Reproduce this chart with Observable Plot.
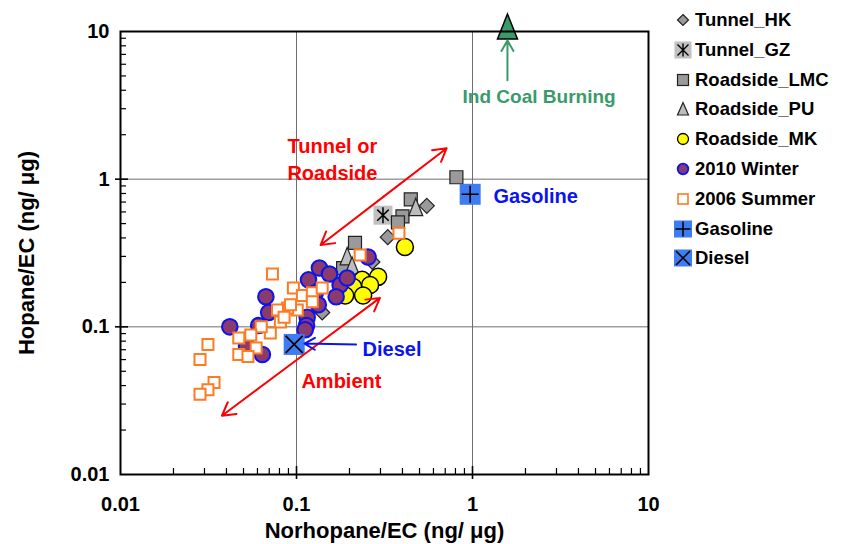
<!DOCTYPE html>
<html><head><meta charset="utf-8">
<script src="https://cdn.jsdelivr.net/npm/d3@7"></script>
<script src="https://cdn.jsdelivr.net/npm/@observablehq/plot@0.6"></script>
<style>
body{margin:0;background:#fff;}
#wrap{position:relative;width:843px;height:544px;font-family:"Liberation Sans",Arial,Helvetica,sans-serif;font-weight:bold;}
.leg{position:absolute;left:674px;height:24px;display:flex;align-items:center;font-size:18.5px;white-space:nowrap;color:#000;}
.leg svg{width:18px;height:18px;flex:none;margin-right:3px;}
</style></head><body><div id="wrap"></div>
<script>
// ---------- data ----------
const tunnelHK_x = [0.55, 0.33, 0.27, 0.14];
const tunnelHK_y = [0.66, 0.405, 0.275, 0.125];
const tunnelGZ_x = [0.31];
const tunnelGZ_y = [0.57];
const roadLMC_x = [0.81, 0.446, 0.40, 0.377, 0.215, 0.184];
const roadLMC_y = [1.03, 0.73, 0.56, 0.51, 0.37, 0.25];
const roadPU_x = [0.476, 0.194, 0.207];
const roadPU_y = [0.64, 0.297, 0.256];
const roadMK_x = [0.413, 0.236, 0.291, 0.262, 0.21, 0.239, 0.189];
const roadMK_y = [0.347, 0.208, 0.218, 0.192, 0.186, 0.163, 0.163];
const winter_x = [0.135, 0.154, 0.117, 0.177, 0.194, 0.255, 0.168, 0.128, 0.133, 0.115, 0.114, 0.067, 0.0695, 0.0418, 0.061, 0.064, 0.052, 0.112];
const winter_y = [0.25, 0.228, 0.208, 0.192, 0.214, 0.297, 0.16, 0.17, 0.141, 0.116, 0.102, 0.16, 0.125, 0.1, 0.102, 0.065, 0.074, 0.0955];
const summer_x = [0.073, 0.096, 0.108, 0.123, 0.14, 0.123, 0.101, 0.089, 0.078, 0.081, 0.0925, 0.071, 0.063, 0.055, 0.047, 0.059, 0.047, 0.053, 0.0314, 0.0283, 0.034, 0.0314, 0.0283, 0.23, 0.382, 0.085];
const summer_y = [0.228, 0.183, 0.163, 0.17, 0.183, 0.148, 0.13, 0.134, 0.13, 0.108, 0.141, 0.091, 0.1, 0.088, 0.084, 0.072, 0.065, 0.063, 0.076, 0.06, 0.042, 0.0375, 0.035, 0.307, 0.43, 0.116];
const gasoline_x = [0.97];
const gasoline_y = [0.79];
const diesel_x = [0.097];
const diesel_y = [0.076];
const coal_x = [1.58];
const coal_y = [10.6];

const axisTicks = [0.01, 0.1, 1, 10];
const gridValues = [0.1, 1];
const legendLabels = ["Tunnel_HK", "Tunnel_GZ", "Roadside_LMC", "Roadside_PU", "Roadside_MK", "2010 Winter", "2006 Summer", "Gasoline", "Diesel"];
const xTitle = "Norhopane/EC (ng/ \u03bcg)";
const yTitle = "Hopane/EC (ng/ \u03bcg)";

// annotations (data coordinates)
const redArrows = [
  {x1: 0.137, y1: 0.358, x2: 0.713, y2: 1.62},
  {x1: 0.0377, y1: 0.025, x2: 0.298, y2: 0.157}
];
const dieselArrow = [{x1: 0.218, y1: 0.076, x2: 0.111, y2: 0.077}];
const coalArrow = [{x1: 1.58, y1: 4.67, x2: 1.58, y2: 8.69}];
const redLabels = [{x: 0.16, y: 1.39, t: "Tunnel or\nRoadside"}, {x: 0.18, y: 0.0438, t: "Ambient"}];
const dieselLabel = [{x: 0.349, y: 0.07, t: "Diesel"}];
const gasolineLabel = [{x: 1.315, y: 0.767, t: "Gasoline"}];
const greenLabels = [{x: 2.39, y: 3.58, t: "Ind Coal Burning"}];

// ---------- helpers ----------
const pts = (xs, ys) => xs.map((x, i) => ({x, y: ys[i]}));
const R = s => Math.sqrt(s / Math.PI);
const symSquare = {draw(c, s) { const r = R(s); c.rect(-r, -r, 2 * r, 2 * r); }};
const symDiamond = {draw(c, s) { const r = R(s); c.moveTo(0, -r); c.lineTo(r, 0); c.lineTo(0, r); c.lineTo(-r, 0); c.closePath(); }};
const symTriangle = {draw(c, s) { const r = R(s), h = 2.5 * r; c.moveTo(0, -0.55 * h); c.lineTo(r, 0.45 * h); c.lineTo(-r, 0.45 * h); c.closePath(); }};
const symPlus = {draw(c, s) { const r = R(s); c.moveTo(-r, 0); c.lineTo(r, 0); c.moveTo(0, -r); c.lineTo(0, r); }};
const symTimes = {draw(c, s) { const r = R(s); c.moveTo(-r, -r); c.lineTo(r, r); c.moveTo(-r, r); c.lineTo(r, -r); }};
const symAsterisk = {draw(c, s) { const r = R(s), u = r * 0.72, v = r * 0.7; c.moveTo(0, -r); c.lineTo(0, r); c.moveTo(-u, -v); c.lineTo(u, v); c.moveTo(-u, v); c.lineTo(u, -v); }};

// axis tick positions (log minor ticks) and tick lengths expressed along the log axes
const minorTicks = [0.01, 0.1, 1].flatMap(d => [2, 3, 4, 5, 6, 7, 8, 9].map(k => +(k * d).toPrecision(3)));
const innerW = 843 - 120 - 195, innerH = 544 - 31 - 70;
const pxX = p => 10 ** (3 * p / innerW), pxY = p => 10 ** (3 * p / innerH); // factor for p pixels
const lo = 0.01;

const halves = arr => arr.flatMap(a => {
  const mx = Math.sqrt(a.x1 * a.x2), my = Math.sqrt(a.y1 * a.y2);
  return [{x1: mx, y1: my, x2: a.x1, y2: a.y1}, {x1: mx, y1: my, x2: a.x2, y2: a.y2}];
});

const FONT = '"Liberation Sans", Arial, Helvetica, sans-serif';
const purple = "#8b3a6d", blueEdge = "#0a14f0", orange = "#ff7a22", yellow = "#ffff00", gray = "#9a9a9a", lgray = "#bdbdbd", boxBlue = "#3d7cf2", green = "#3a9a6a";

const chart = Plot.plot({
  width: 843, height: 544,
  marginLeft: 120, marginRight: 195, marginTop: 31, marginBottom: 70,
  x: {type: "log", domain: [0.01, 10], axis: null},
  y: {type: "log", domain: [0.01, 10], axis: null},
  style: {fontFamily: FONT, fontWeight: "bold", background: "transparent", overflow: "visible", color: "black"},
  marks: [
    Plot.ruleX(gridValues, {stroke: "#6e6e6e", strokeWidth: 1}),
    Plot.ruleY(gridValues, {stroke: "#6e6e6e", strokeWidth: 1}),
    // inward minor ticks
    Plot.ruleX(minorTicks, {x: d => d, y1: lo, y2: lo * pxY(6), stroke: "black", strokeWidth: 1.2}),
    Plot.ruleY(minorTicks, {y: d => d, x1: lo, x2: lo * pxX(6), stroke: "black", strokeWidth: 1.2}),
    // major ticks crossing the axis
    Plot.ruleX(gridValues, {x: d => d, y1: lo / pxY(5), y2: lo * pxY(8), stroke: "black", strokeWidth: 1.6}),
    Plot.ruleY(gridValues, {y: d => d, x1: lo / pxX(5), x2: lo * pxX(8), stroke: "black", strokeWidth: 1.6}),
    // series
    Plot.dot(pts(tunnelHK_x, tunnelHK_y), {x: "x", y: "y", symbol: symDiamond, r: 7.5, fill: gray, stroke: "#222", strokeWidth: 1.2}),
    Plot.dot(pts(tunnelGZ_x, tunnelGZ_y), {x: "x", y: "y", symbol: symSquare, r: 9.5, fill: "#c0c0c0", stroke: "none"}),
    Plot.dot(pts(tunnelGZ_x, tunnelGZ_y), {x: "x", y: "y", symbol: symAsterisk, r: 8, fill: "none", stroke: "black", strokeWidth: 1.5}),
    Plot.dot(pts(roadLMC_x, roadLMC_y), {x: "x", y: "y", symbol: symSquare, r: 6.5, fill: gray, stroke: "#222", strokeWidth: 1.2}),
    Plot.dot(pts(roadPU_x, roadPU_y), {x: "x", y: "y", symbol: symTriangle, r: 7, fill: lgray, stroke: "#222", strokeWidth: 1.2}),
    Plot.dot(pts(roadMK_x, roadMK_y), {x: "x", y: "y", symbol: "circle", r: 8.5, fill: yellow, stroke: "black", strokeWidth: 1.5}),
    Plot.dot(pts(winter_x, winter_y), {x: "x", y: "y", symbol: "circle", r: 7.8, fill: purple, stroke: blueEdge, strokeWidth: 2}),
    Plot.dot(pts(summer_x, summer_y), {x: "x", y: "y", symbol: symSquare, r: 5.5, fill: "white", stroke: orange, strokeWidth: 2}),
    Plot.dot(pts(gasoline_x, gasoline_y), {x: "x", y: "y", symbol: symSquare, r: 10.5, fill: boxBlue, stroke: "none"}),
    Plot.dot(pts(gasoline_x, gasoline_y), {x: "x", y: "y", symbol: symPlus, r: 8.5, fill: "none", stroke: "black", strokeWidth: 1.6}),
    Plot.dot(pts(diesel_x, diesel_y), {x: "x", y: "y", symbol: symSquare, r: 10.5, fill: boxBlue, stroke: "none"}),
    Plot.dot(pts(diesel_x, diesel_y), {x: "x", y: "y", symbol: symTimes, r: 8.5, fill: "none", stroke: "black", strokeWidth: 1.6}),
    Plot.dot(pts(coal_x, coal_y), {x: "x", y: "y", symbol: symTriangle, r: 10, fill: green, stroke: "black", strokeWidth: 1.5}),
    // annotations
    Plot.arrow(halves(redArrows), {x1: "x1", y1: "y1", x2: "x2", y2: "y2", stroke: "#ff0000", strokeWidth: 2, headLength: 11}),
    Plot.arrow(dieselArrow, {x1: "x1", y1: "y1", x2: "x2", y2: "y2", stroke: "#0a14f0", strokeWidth: 2, headLength: 9}),
    Plot.arrow(coalArrow, {x1: "x1", y1: "y1", x2: "x2", y2: "y2", stroke: green, strokeWidth: 2, headLength: 9}),
    Plot.text(redLabels, {x: "x", y: "y", text: "t", fill: "#ff0000", fontSize: 20, fontWeight: "bold", lineHeight: 1.35}),
    Plot.text(dieselLabel, {x: "x", y: "y", text: "t", fill: "#0a14f0", fontSize: 20, fontWeight: "bold"}),
    Plot.text(gasolineLabel, {x: "x", y: "y", text: "t", fill: "#0a14f0", fontSize: 20, fontWeight: "bold", textAnchor: "start"}),
    Plot.text(greenLabels, {x: "x", y: "y", text: "t", fill: green, fontSize: 19, fontWeight: "bold"}),
    Plot.frame({stroke: "black", strokeWidth: 2}),
    Plot.axisX({ticks: axisTicks, tickSize: 0, tickPadding: 22, fontSize: 20, tickFormat: d => String(d), label: null}),
    Plot.axisY({ticks: axisTicks, tickSize: 0, tickPadding: 11, fontSize: 20, tickFormat: d => String(d), label: null}),
    Plot.text([xTitle], {frameAnchor: "bottom", dy: 56, fontSize: 22, fontWeight: "bold", textAnchor: "middle", lineAnchor: "middle"}),
    Plot.text([yTitle], {frameAnchor: "left", dx: -94, rotate: -90, fontSize: 22, fontWeight: "bold", textAnchor: "middle", lineAnchor: "middle"})
  ]
});

const wrap = document.getElementById("wrap");
wrap.appendChild(chart);

// ---------- legend ----------
const legendSymbols = [
  `<polygon points="9,3.5 14.5,9 9,14.5 3.5,9" fill="${gray}" stroke="#222" stroke-width="1.2"/>`,
  `<rect x="0.5" y="0.5" width="17" height="17" fill="#c0c0c0"/><path d="M9,2.5V15.5M3.5,3.5L14.5,14.5M3.5,14.5L14.5,3.5" stroke="#000" stroke-width="1.4" fill="none"/>`,
  `<rect x="3.5" y="3.5" width="11" height="11" fill="${gray}" stroke="#222" stroke-width="1.2"/>`,
  `<polygon points="9,2.5 14.5,15 3.5,15" fill="${lgray}" stroke="#222" stroke-width="1.2"/>`,
  `<circle cx="9" cy="9" r="5.5" fill="${yellow}" stroke="#000" stroke-width="1.3"/>`,
  `<circle cx="9" cy="9" r="5.3" fill="${purple}" stroke="${blueEdge}" stroke-width="1.8"/>`,
  `<rect x="4" y="4" width="10" height="10" fill="#fff" stroke="${orange}" stroke-width="1.6"/>`,
  `<rect x="0" y="0.5" width="18" height="17" fill="${boxBlue}"/><path d="M1.5,9H16.5M9,1.5V16.5" stroke="#000" stroke-width="1.5" fill="none"/>`,
  `<rect x="0" y="0.5" width="18" height="17" fill="${boxBlue}"/><path d="M2,2L16,16M2,16L16,2" stroke="#000" stroke-width="1.5" fill="none"/>`
];
legendLabels.forEach((lab, i) => {
  const div = document.createElement("div");
  div.className = "leg";
  div.style.top = (20 + i * 29.8 - 12) + "px";
  div.innerHTML = `<svg viewBox="0 0 18 18">${legendSymbols[i]}</svg><span>${lab}</span>`;
  wrap.appendChild(div);
});
</script></body></html>
